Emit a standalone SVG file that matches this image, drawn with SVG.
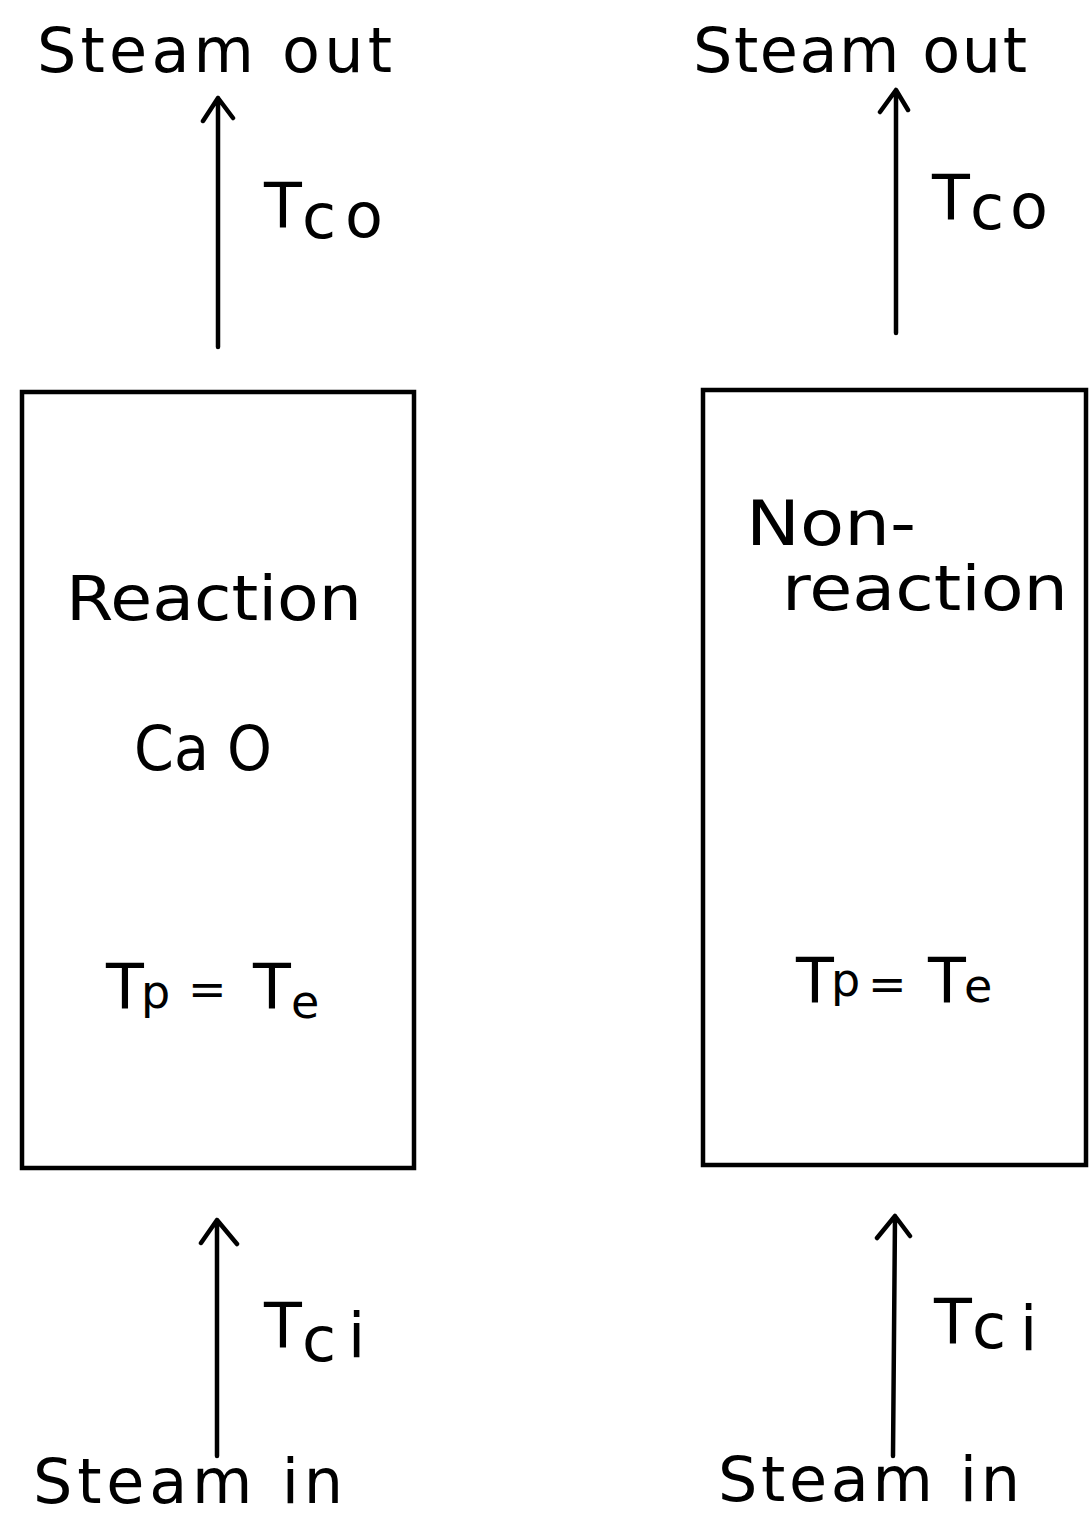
<svg xmlns="http://www.w3.org/2000/svg" width="1092" height="1518" viewBox="0 0 1092 1518">
<style>
text{font-family:"DejaVu Sans","Liberation Sans",sans-serif;fill:#000;font-size:62px}
.sub{font-size:46px}
.eq{font-size:46px}
.box{fill:none;stroke:#000;stroke-width:4.5}
.ln{fill:none;stroke:#000;stroke-width:4.5;stroke-linecap:round;stroke-linejoin:round}
</style>
<rect width="1092" height="1518" fill="#fff"/>
<g id="connectors">
<path class="ln" d="M218 347 L218 98 M203 121 L218 98 L233 118"/>
<path class="ln" d="M896 333 L896 90 M880 112 L896 90 L908 110"/>
<path class="ln" d="M217 1456 L217 1220 M201 1243 L217 1220 L237 1244"/>
<path class="ln" d="M893 1456 L895 1216 M877 1238 L895 1216 L910 1236"/>
</g>
<g id="reaction-bed">
<rect class="box" x="22" y="392" width="392" height="776"/>
<text x="66" y="620" textLength="296" lengthAdjust="spacingAndGlyphs">Reaction</text>
<text x="134" y="770" textLength="138" lengthAdjust="spacingAndGlyphs">Ca O</text>
<text x="106" y="1008">T<tspan class="sub" x="141" y="1008">p</tspan><tspan class="eq" x="188" y="1005">=</tspan><tspan x="253" y="1008">T</tspan><tspan class="sub" x="291" y="1018">e</tspan></text>
</g>
<g id="nonreaction-bed">
<rect class="box" x="703" y="390" width="383" height="775"/>
<text x="746" y="545" textLength="170" lengthAdjust="spacingAndGlyphs">Non-</text>
<text x="782" y="610" textLength="286" lengthAdjust="spacingAndGlyphs">reaction</text>
<text x="796" y="1002">T<tspan class="sub" x="831" y="996">p</tspan><tspan class="eq" x="868" y="1000">=</tspan><tspan x="928" y="1002">T</tspan><tspan class="sub" x="964" y="1002">e</tspan></text>
</g>
<g id="steam-out-left">
<text x="37" y="72" textLength="355" lengthAdjust="spacing">Steam out</text>
<text x="264" y="227">T<tspan x="302" y="238">c</tspan><tspan x="345" y="237">o</tspan></text>
</g>
<g id="steam-out-right">
<text x="932" y="219">T<tspan x="970" y="229">c</tspan><tspan x="1010" y="228">o</tspan></text>
<text x="693" y="72" textLength="334" lengthAdjust="spacing">Steam out</text>
</g>
<g id="steam-in-left">
<text x="264" y="1347">T<tspan x="302" y="1361">c</tspan><tspan x="348" y="1357">i</tspan></text>
<text x="33" y="1503" textLength="310" lengthAdjust="spacing">Steam in</text>
</g>
<g id="steam-in-right">
<text x="934" y="1343">T<tspan x="972" y="1348">c</tspan><tspan x="1020" y="1350">i</tspan></text>
<text x="718" y="1501" textLength="302" lengthAdjust="spacing">Steam in</text>
</g>
</svg>
